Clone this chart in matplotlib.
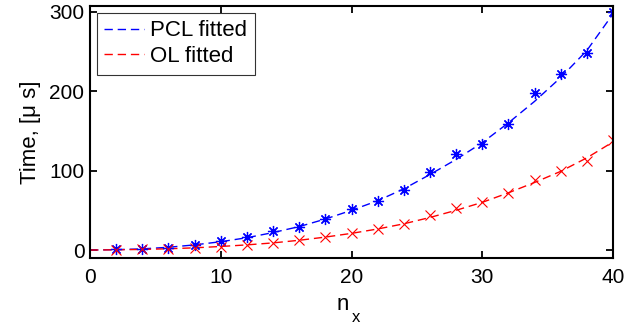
import matplotlib
matplotlib.use("Agg")
import matplotlib.pyplot as plt

plt.rcParams['font.family'] = ['Liberation Sans', 'DejaVu Sans']

n_x = [2, 4, 6, 8, 10, 12, 14, 16, 18, 20, 22, 24, 26, 28, 30, 32, 34, 36, 38, 40]
pcl_time = [0.8, 1.5, 3.0, 6.0, 11.0, 16.0, 24.0, 28.5, 39.0, 52.0, 62.0, 76.0, 98.0,
            121.0, 133.0, 159.0, 197.0, 221.0, 248.0, 299.0]
ol_time = [0.3, 0.8, 1.3, 2.5, 3.5, 6.0, 9.0, 12.5, 16.0, 22.0, 26.0, 33.0, 44.0,
           53.0, 61.0, 72.0, 88.0, 100.0, 112.0, 138.0]

fit_x = [0, 2, 4, 6, 8, 10, 12, 14, 16, 18, 20, 22, 24, 26, 28, 30, 32, 34, 36, 38, 40]
pcl_fit = [0.0, 0.5, 1.5, 3.5, 6.5, 10.5, 15.5, 22.0, 29.5, 39.0, 50.0, 62.0, 77.0,
           95.0, 114.0, 135.0, 160.0, 187.0, 217.0, 251.0, 297.0]
ol_fit = [0.0, 0.3, 0.8, 1.6, 2.8, 4.5, 6.5, 9.0, 12.3, 16.3, 21.0, 26.5, 33.0,
          41.0, 50.0, 60.0, 72.0, 85.0, 99.0, 116.0, 136.0]

W, H = 644, 329
fig = plt.figure(figsize=(W / 100, H / 100), dpi=100)
ax = fig.add_axes([90 / W, (H - 258) / H, (613 - 90) / W, (258 - 6) / H])

ax.plot(fit_x, pcl_fit, '--', color='blue', lw=1.0, dashes=(6, 3.5), label='PCL fitted')
ax.plot(fit_x, ol_fit, '--', color='red', lw=1.0, dashes=(6, 3.5), label='OL fitted')
ax.plot(n_x, pcl_time, linestyle='none', marker=(8, 2, 0), ms=8, mew=0.9, color='blue')
ax.plot(n_x, ol_time, linestyle='none', marker='x', ms=6.5, mew=0.8, color='red')

ax.set_xlim(0, 40)
ax.set_ylim(-10, 307)
ax.set_xticks([0, 10, 20, 30, 40])
ax.set_yticks([0, 100, 200, 300])
ax.tick_params(direction='in', length=5, width=1.3, top=True, right=True,
               labelsize=15)
ax.tick_params(axis='x', pad=7)
ax.tick_params(axis='y', pad=4)
for s in ax.spines.values():
    s.set_linewidth(1.5)

# x label: "n" with a low subscript "x"
fig.text(343 / W, 1 - 310 / H, 'n', fontsize=16, ha='center', va='baseline')
fig.text(356 / W, 1 - 322 / H, 'x', fontsize=12, ha='center', va='baseline')
ax.set_ylabel('Time, [μ s]', fontsize=16, labelpad=6)

leg = ax.legend(loc='upper left', fontsize=16, frameon=True, fancybox=False,
                edgecolor='black', borderaxespad=0.3, handlelength=1.8,
                handletextpad=0.25, labelspacing=0.2, borderpad=0.35)
leg.get_frame().set_linewidth(0.8)

fig.savefig('out.png', dpi=100)
